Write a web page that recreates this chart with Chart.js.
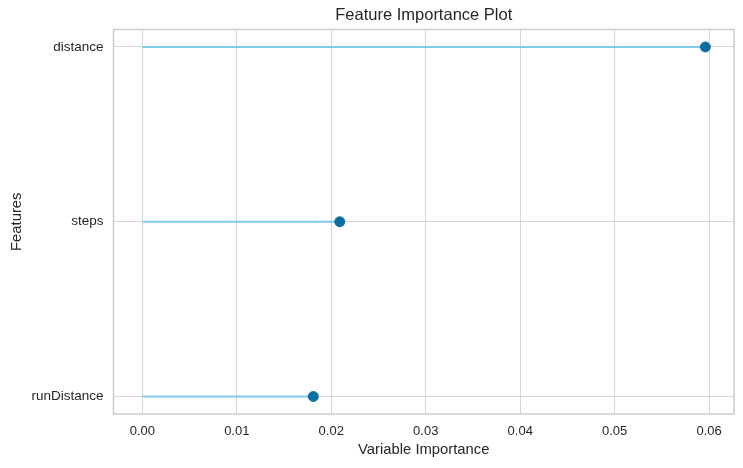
<!DOCTYPE html>
<html>
<head>
<meta charset="utf-8">
<script src="https://cdn.jsdelivr.net/npm/chart.js@4/dist/chart.umd.min.js"></script>
<style>
  html, body { margin: 0; padding: 0; background: #fff; }
  #wrap { width: 743px; height: 468px; }
</style>
</head>
<body>
<div id="wrap"><canvas id="chart" width="743" height="468"></canvas></div>
<script>
// --- data ---
const features = ['distance', 'steps', 'runDistance'];
const importance = [0.0596, 0.0209, 0.0181];
const xTicks = [0, 0.01, 0.02, 0.03, 0.04, 0.05, 0.06];

const stemColor = '#80cbea';
const dotColor = '#0b6fa4';
const textColor = '#262626';
const fontFamily = '"Liberation Sans", Arial, sans-serif';

// one stem per feature, from 0 to its value
const stems = features.map((f, i) => ({
    type: 'line',
    label: f,
    data: [{ x: 0, y: i }, { x: importance[i], y: i }],
    borderColor: stemColor,
    borderWidth: 2.2,
    pointRadius: 0,
    showLine: true,
    order: 2
}));

const dots = {
    type: 'scatter',
    label: 'importance',
    data: features.map((f, i) => ({ x: importance[i], y: i })),
    backgroundColor: dotColor,
    borderColor: dotColor,
    pointRadius: 5,
    order: 1
};

// frame around the plot area, like the matplotlib spines
const framePlugin = {
    id: 'frame',
    beforeDatasetsDraw(chart) {
        const { ctx, chartArea: a } = chart;
        ctx.save();
        ctx.strokeStyle = '#cccccc';
        ctx.lineWidth = 1.5;
        ctx.strokeRect(a.left, a.top, a.right - a.left, a.bottom - a.top);
        ctx.restore();
    }
};

new Chart(document.getElementById('chart'), {
    type: 'scatter',
    data: { datasets: [...stems, dots] },
    plugins: [framePlugin],
    options: {
        responsive: false,
        animation: false,
        layout: { padding: { top: 0, right: 9, bottom: 0, left: 0 } },
        plugins: {
            legend: { display: false },
            tooltip: { enabled: false },
            title: {
                display: true,
                fullSize: false,
                text: 'Feature Importance Plot',
                color: textColor,
                font: { family: fontFamily, size: 16.5, weight: 'normal' },
                padding: { top: 6, bottom: 3.7 }
            }
        },
        scales: {
            x: {
                type: 'linear',
                min: -0.00305,
                max: 0.06263,
                afterBuildTicks: (scale) => { scale.ticks = xTicks.map(v => ({ value: v })); },
                afterFit: (scale) => { scale.height = 54; },
                grid: { color: '#d6d6d6', lineWidth: 1, drawTicks: false },
                border: { display: false },
                ticks: {
                    color: textColor,
                    padding: 10,
                    font: { family: fontFamily, size: 13 },
                    callback: (v) => v.toFixed(2)
                },
                title: {
                    display: true,
                    text: 'Variable Importance',
                    color: textColor,
                    font: { family: fontFamily, size: 14.8 },
                    padding: { top: 2, bottom: 9 }
                }
            },
            y: {
                type: 'linear',
                reverse: true,
                min: -0.1,
                max: 2.1,
                afterBuildTicks: (scale) => { scale.ticks = features.map((f, i) => ({ value: i })); },
                afterFit: (scale) => { scale.width = 113.5; },
                grid: { color: '#d6d6d6', lineWidth: 1, drawTicks: false },
                border: { display: false },
                ticks: {
                    color: textColor,
                    padding: 10,
                    font: { family: fontFamily, size: 13.5 },
                    callback: (v) => features[v]
                },
                title: {
                    display: true,
                    text: 'Features',
                    color: textColor,
                    font: { family: fontFamily, size: 14.8 },
                    padding: { top: 8, bottom: 4 }
                }
            }
        }
    }
});
</script>
</body>
</html>
